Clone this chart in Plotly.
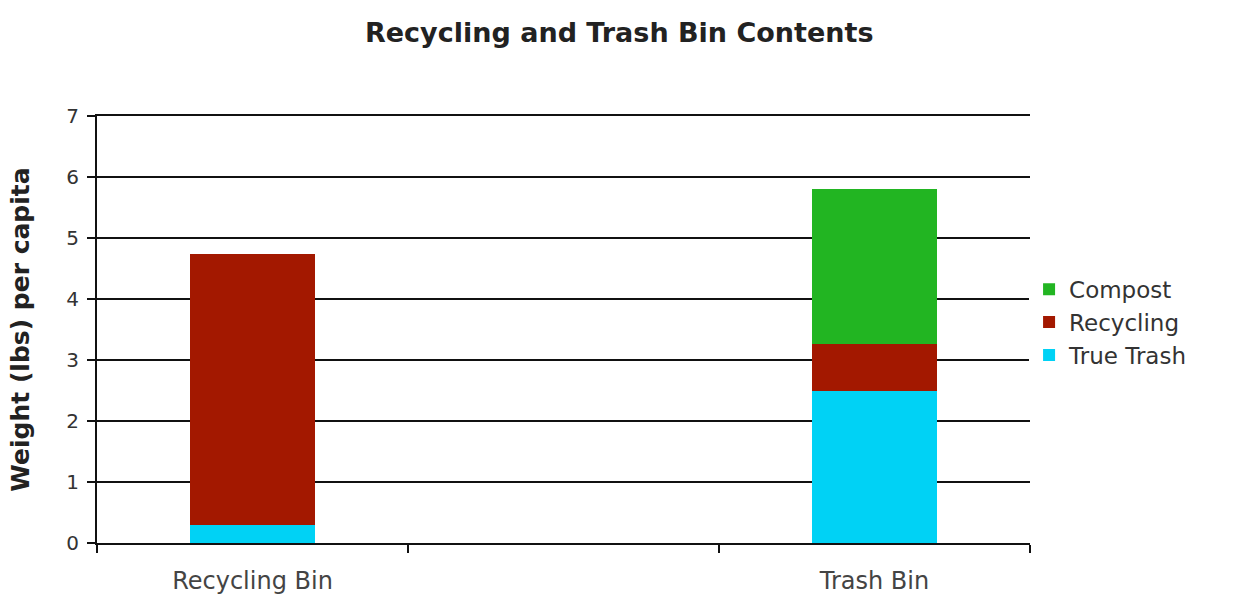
import plotly.graph_objects as go

categories = ["Recycling Bin", " ", "Trash Bin"]
true_trash = [0.30, None, 2.50]
recycling = [4.44, None, 0.77]
compost = [None, None, 2.53]

series_names = ["True Trash", "Recycling", "Compost"]
series_values = [true_trash, recycling, compost]
series_colors = ["#00d2f5", "#a31800", "#22b522"]

fig = go.Figure()
for name, vals, col in zip(series_names, series_values, series_colors):
    fig.add_trace(go.Bar(x=categories, y=vals, name=name, marker_color=col,
                         marker_line_width=0, width=0.4))

font = "DejaVu Sans, Verdana, sans-serif"
fig.update_layout(
    barmode="stack",
    width=1246, height=596,
    margin=dict(l=97, r=216, t=116, b=53),
    paper_bgcolor="white", plot_bgcolor="white",
    font=dict(family=font, color="#333333", size=20),
    title=dict(text="<b>Recycling and Trash Bin Contents</b>", x=0.497, xanchor="center",
               y=0.946, yanchor="middle", font=dict(size=27, color="#222222")),
    legend=dict(traceorder="reversed", x=0.999, xanchor="left", y=0.517, yanchor="middle",
                font=dict(size=23, color="#333333"), itemwidth=30, tracegroupgap=0),
    bargap=0.6,
    showlegend=True,
)
fig.update_xaxes(
    showline=True, linecolor="#111111", linewidth=2, mirror=True,
    ticks="outside", tickson="boundaries", ticklen=8, tickwidth=2, tickcolor="#111111",
    tickfont=dict(size=24, color="#444444"), ticklabelstandoff=15,
    showgrid=False, automargin=False,
)
fig.update_yaxes(
    range=[0, 7], dtick=1, showline=True, linecolor="#111111", linewidth=2,
    ticks="outside", ticklen=8, tickwidth=2, tickcolor="#111111",
    showgrid=True, gridcolor="#111111", gridwidth=2,
    tickfont=dict(size=20, color="#333333"), ticklabelstandoff=4,
    title=dict(text="<b>Weight (lbs) per capita</b>", font=dict(size=25, color="#222222"), standoff=30),
    zeroline=False, automargin=False,
)
fig.write_html("out.html")
